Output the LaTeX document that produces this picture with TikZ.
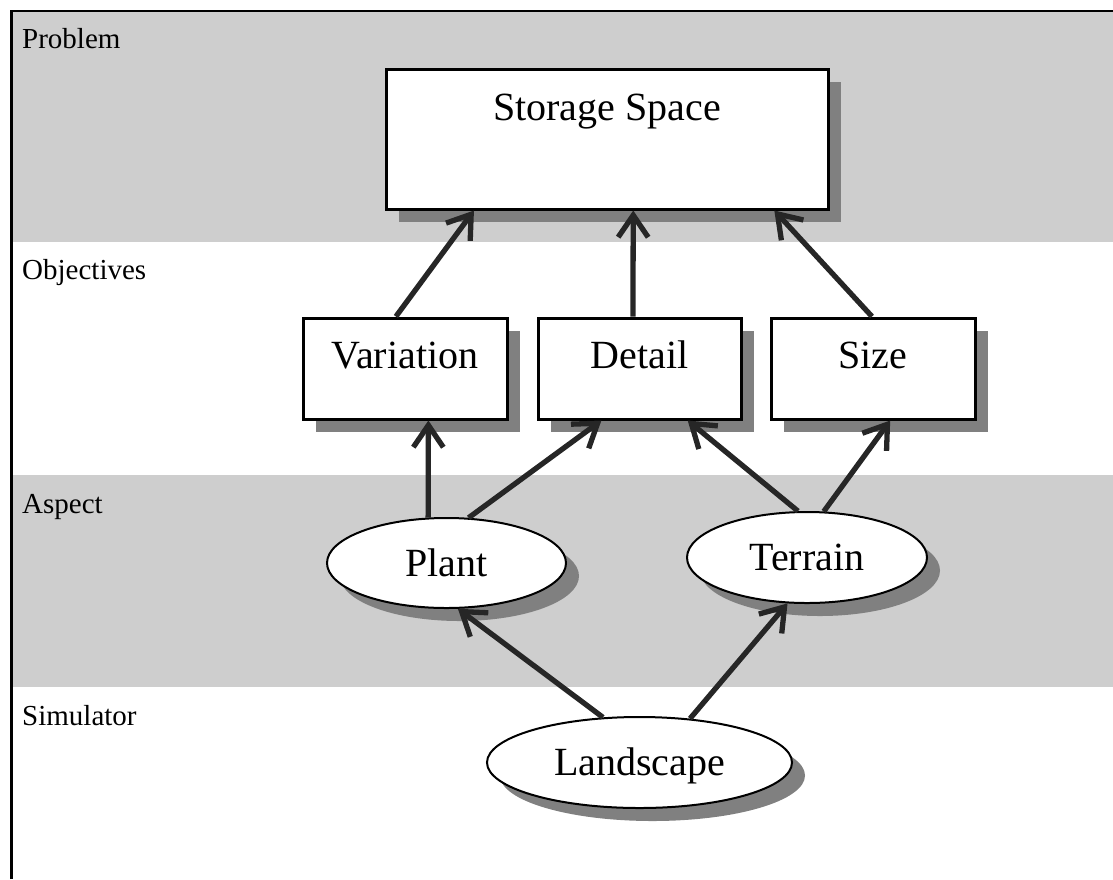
\documentclass[tikz,border=0pt]{standalone}
\usepackage{fontspec}
\setmainfont{Liberation Serif}
\usetikzlibrary{arrows.meta,shapes.geometric,shadows,calc}
\definecolor{bandgray}{HTML}{CECECE}
\definecolor{shadowgray}{HTML}{808080}
\definecolor{arrowcol}{HTML}{262626}
\tikzset{
  big/.style={font=\fontsize{40}{48}\selectfont},
  bandlabel/.style={anchor=base west,inner sep=0pt,font=\fontsize{29}{34}\selectfont},
  shad/.style={drop shadow={shadow xshift=13pt,shadow yshift=-13pt,fill=shadowgray,opacity=1}},
  boxnode/.style={big,rectangle,draw=black,line width=3pt,fill=white,shad,inner sep=0pt,
     minimum width=#1,text height=50pt,text depth=51pt},
  ellnode/.style={big,ellipse,draw=black,line width=2pt,fill=white,shad,inner sep=0pt,
     text height=26pt,text depth=0pt},
  arr/.style={draw=arrowcol,line width=5.3pt,-{Straight Barb[length=22pt,width=30pt]}}
}
\begin{document}
\begin{tikzpicture}[x=1pt,y=-1pt]
\useasboundingbox (0,0) rectangle (1113,879);
% bands
\fill[bandgray] (12,12) rectangle (1113,242);
\fill[bandgray] (12,475) rectangle (1113,687);
% frame
\draw[line width=2.5pt] (11.5,879) -- (11.5,11) -- (1113,11);
% band labels
\node[bandlabel] (lprob) at (22,48) {Problem};
\node[bandlabel] (lobj) at (22,279) {Objectives};
\node[bandlabel] (lasp) at (22,513) {Aspect};
\node[bandlabel] (lsim) at (22,725) {Simulator};
% nodes
\node[boxnode=442pt,text height=51pt,text depth=89pt] (store) at (607,139) {Storage Space};
\node[boxnode=204pt] (var) at (405,368.5) {Variation};
\node[boxnode=203pt] (det) at (639.5,368.5) {Detail};
\node[boxnode=204pt] (size) at (873,368.5) {Size};
\node[ellnode,minimum width=239pt,minimum height=90pt] (plant) at (446.5,563) {Plant};
\node[ellnode,minimum width=240pt,minimum height=91pt] (terr) at (807,557.5) {Terrain};
\node[ellnode,minimum width=305pt,minimum height=91pt] (land) at (639.5,762.5) {Landscape};
% connectors
\draw[arr] ($(var.north west)!0.456!(var.north east)$) -- ($(store.south west)!0.201!(store.south east)$);
\draw[arr] ($(det.north west)!0.468!(det.north east)$) -- ($(store.south west)!0.559!(store.south east)$);
\draw[arr] ($(size.north west)!0.495!(size.north east)$) -- ($(store.south west)!0.876!(store.south east)$);
\draw[arr] (plant.112.6) -- ($(var.south west)!0.613!(var.south east)$);
\draw[arr] (plant.64.1) -- ($(det.south west)!0.315!(det.south east)$);
\draw[arr] (terr.101.2) -- ($(det.south west)!0.734!(det.south east)$);
\draw[arr] (terr.70.5) -- ($(size.south west)!0.583!(size.south east)$);
\draw[arr] (land.129.6) -- (plant.-76.8);
\draw[arr] (land.41.6) -- (terr.247.1);
\end{tikzpicture}
\end{document}
